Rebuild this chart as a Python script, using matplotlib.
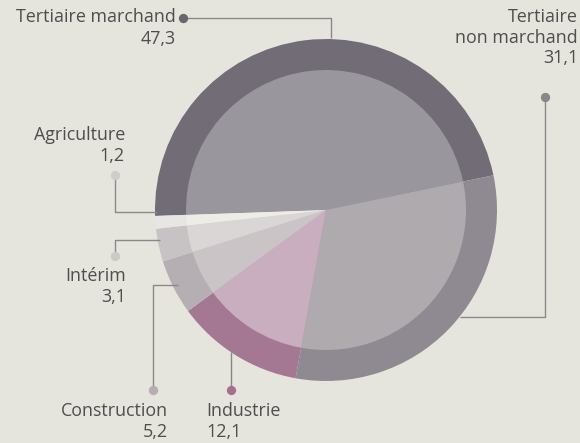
import matplotlib
matplotlib.use("Agg")
import matplotlib.pyplot as plt

# Data
categories = ["Tertiaire marchand", "Tertiaire non marchand", "Industrie",
              "Construction", "Intérim", "Agriculture"]
values = [47.3, 31.1, 12.1, 5.2, 3.1, 1.2]
value_labels = ["47,3", "31,1", "12,1", "5,2", "3,1", "1,2"]
outer_colors = ["#716c75", "#8f8a91", "#a47893", "#b5aeb2", "#c7c3c4", "#e7e6e2"]
inner_colors = ["#9a969d", "#aeaaae", "#c8aebe", "#cac4c7", "#d9d6d5", "#eeece7"]
dot_colors = ["#6a666c", "#8a868b", "#a5708f", "#b9abb2", "#cdc9c9", "#cfcccc"]

W, H = 580, 443
bg = "#e5e5dd"
txt = "#4e4e4e"

fig = plt.figure(figsize=(W / 100, H / 100), dpi=100, facecolor=bg)
ax = fig.add_axes([0, 0, 1, 1])
ax.set_facecolor(bg)

def Y(y):
    return H - y

cx, cy = 326, Y(210)
ax.pie(values, colors=outer_colors, startangle=182, counterclock=False,
       radius=171, center=(cx, cy), frame=True,
       wedgeprops=dict(linewidth=0))
ax.pie(values, colors=inner_colors, startangle=182, counterclock=False,
       radius=140, center=(cx, cy), frame=True,
       wedgeprops=dict(linewidth=0))
ax.set_xlim(0, W)
ax.set_ylim(0, H)
ax.set_aspect("equal")
ax.axis("off")

font = dict(family=["Open Sans", "DejaVu Sans"], fontsize=12.9, color=txt)
lc = "#8a8888"
lw = 1.0

def leader(points, dot, color):
    xs = [p[0] for p in points]
    ys = [Y(p[1]) for p in points]
    ax.plot(xs, ys, color=lc, lw=lw, zorder=3, solid_capstyle="butt")
    ax.scatter([dot[0]], [Y(dot[1])], s=45, color=color, zorder=4, linewidths=0)

# Tertiaire marchand
leader([(183, 18), (331, 18), (331, 38)], (183, 18), dot_colors[0])
ax.text(176, Y(17), categories[0], ha="right", va="center", **font)
ax.text(176, Y(39), value_labels[0], ha="right", va="center", **font)

# Tertiaire non marchand
leader([(545, 97), (545, 317), (460, 317)], (545, 97), dot_colors[1])
ax.text(578, Y(17), "Tertiaire", ha="right", va="center", **font)
ax.text(578, Y(38), "non marchand", ha="right", va="center", **font)
ax.text(578, Y(58), value_labels[1], ha="right", va="center", **font)

# Industrie
leader([(231, 390), (231, 352)], (231, 390), dot_colors[2])
ax.text(206, Y(411), categories[2], ha="left", va="center", **font)
ax.text(206, Y(432), value_labels[2], ha="left", va="center", **font)

# Construction
leader([(153, 390), (153, 285), (178, 285)], (153, 390), dot_colors[3])
ax.text(168, Y(411), categories[3], ha="right", va="center", **font)
ax.text(168, Y(432), value_labels[3], ha="right", va="center", **font)

# Intérim
leader([(115, 256), (115, 240), (160, 240)], (115, 256), dot_colors[4])
ax.text(126, Y(276), categories[4], ha="right", va="center", **font)
ax.text(126, Y(297), value_labels[4], ha="right", va="center", **font)

# Agriculture
leader([(115, 175), (115, 212), (157, 212)], (115, 175), dot_colors[5])
ax.text(125, Y(135), categories[5], ha="right", va="center", **font)
ax.text(125, Y(156), value_labels[5], ha="right", va="center", **font)

fig.savefig("out.png", dpi=100, facecolor=bg)
